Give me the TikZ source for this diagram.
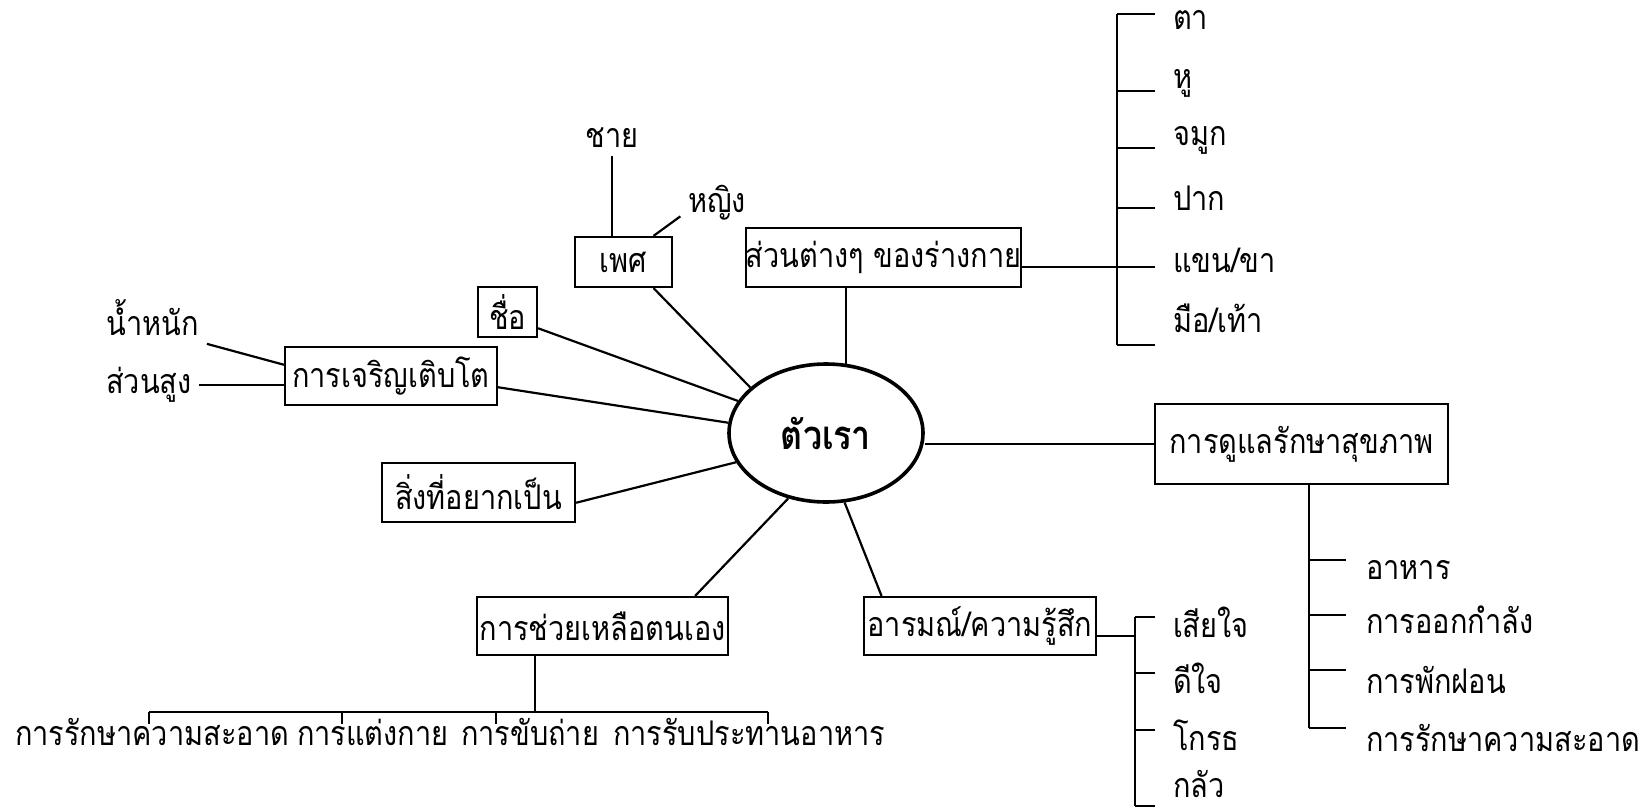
\documentclass[tikz,border=0pt]{standalone}
\usepackage{fontspec}
\newfontfamily\thaifont[Script=Thai,FakeStretch=0.85]{Loma}
\usepackage{tikz}
\usetikzlibrary{shapes.geometric}

\begin{document}
\begin{tikzpicture}[x=0.5pt,y=-0.5pt,line width=1.1pt,
  every node/.style={font=\thaifont\fontsize{17}{19}\selectfont},
  box/.style 2 args={draw,rectangle,inner sep=0pt,minimum width=#1,minimum height=#2},
  leaf/.style={inner sep=0pt,anchor=west}]
\useasboundingbox (0,0) rectangle (1639,809);

% centre
\node [ellipse,draw,line width=1.8pt,minimum width=97pt,minimum height=69pt,inner sep=0pt,
  font=\thaifont\bfseries\fontsize{20}{22}\selectfont] (me) at (826,433) {ตัวเรา};

% topics
\node [box={48.5pt}{25pt}] (sex) at (623.5,262) {เพศ};
\node [box={29.5pt}{25pt}] (name) at (507.5,312) {ชื่อ};
\node [box={106pt}{29pt}] (grow) at (391,376) {การเจริญเติบโต};
\node [box={96.5pt}{29.5pt}] (wish) at (478.5,492.5) {สิ่งที่อยากเป็น};
\node [box={125.5pt}{29pt}] (help) at (602.5,626) {การช่วยเหลือตนเอง};
\node [box={116pt}{29pt}] (feel) at (980,626) {อารมณ์/ความรู้สึก};
\node [box={146.5pt}{40pt}] (care) at (1301.5,444) {การดูแลรักษาสุขภาพ};
\node [box={135.5pt}{29.5pt}] (body) at (883.5,257.5) {ส่วนต่างๆ ของร่างกาย};

\draw (sex.-41) -- (me.149);
\draw (name.-28) -- (me.160);
\draw (grow.-6) -- (me.174);
\draw (wish.-6) -- (me.198);
\draw (help.18) -- (me.240);
\draw (feel.163) -- (me.285);
\draw (me.74) -- (me.74 |- body.south);
\draw (care.west) -- (care.west -| me.east);

% sex
\node (male) at (612,138) {ชาย};
\node (female) at (717,203) {หญิง};
\draw (male.south) -- (male.south |- sex.north);
\draw (sex.41) -- (female.200);

% growth
\node (weight) at (153,318) {น้ำหนัก};
\node (height) at (149,385) {ส่วนสูง};
\draw (weight.south east) -- (grow.174);
\draw (height.east) -- (height.east -| grow.west);

% body parts
\coordinate (bspine) at (1117,0);
\foreach \t/\y [count=\i] in {ตา/20,หู/83,จมูก/140,ปาก/198,{แขน/ขา}/260,{มือ/เท้า}/318}
  \node [leaf] (part\i) at (1172,\y) {\t};
\foreach \y [count=\i] in {14,91,148,208,267,345}
  \coordinate (bt\i) at (1155,\y);
\draw (body.-4) -- (body.-4 -| bspine);
\draw (bt1 -| bspine) -- (bt6 -| bspine);
\foreach \i in {1,...,6} \draw (bt\i -| bspine) -- (bt\i);

% feelings
\coordinate (espine) at (1135,0);
\foreach \t/\y [count=\i] in {เสียใจ/622,ดีใจ/678,โกรธ/735,กลัว/784}
  \node [leaf] (emo\i) at (1172,\y) {\t};
\foreach \y [count=\i] in {617,673,730,806}
  \coordinate (et\i) at (1155,\y);
\draw (feel.-5) -- (feel.-5 -| espine);
\draw (et1 -| espine) -- (et4 -| espine);
\foreach \i in {1,...,4} \draw (et\i -| espine) -- (et\i);

% health
\coordinate (hspine) at (1309,0);
\foreach \t/\y [count=\i] in {อาหาร/570,การออกกำลัง/620,การพักฝอน/680,การรักษาความสะอาด/738}
  \node [leaf] (fit\i) at (1365,\y) {\t};
\foreach \y [count=\i] in {560,615,670,728}
  \coordinate (ht\i) at (1346,\y);
\draw (hspine |- care.south) -- (hspine |- ht4);
\foreach \i in {1,...,4} \draw (ht\i -| hspine) -- (ht\i);

% self help
\coordinate (sdrop) at (535,712);
\foreach \t/\x [count=\i] in {การรักษาความสะอาด/14,การแต่งกาย/296,การขับถ่าย/460,การรับประทานอาหาร/612}
  \node [leaf] (self\i) at (\x,732) {\t};
\foreach \x [count=\i] in {149,342,496,768}
  \coordinate (st\i) at (\x,724);
\draw (sdrop |- help.south) -- (sdrop);
\draw (st1 |- sdrop) -- (st4 |- sdrop);
\foreach \i in {1,...,4} \draw (st\i |- sdrop) -- (st\i);
\end{tikzpicture}
\end{document}
